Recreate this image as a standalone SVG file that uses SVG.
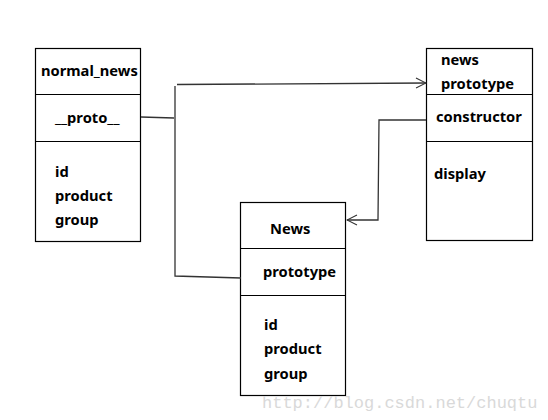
<svg xmlns="http://www.w3.org/2000/svg" width="548" height="420" viewBox="0 0 548 420">
<defs>
<style>
.box{fill:#fff;stroke:#000;stroke-width:1.2}
.div{stroke:#000;stroke-width:1.2}
.t{font-family:"Noto Sans","Open Sans",sans-serif;font-weight:bold;font-size:14.7px;fill:#000}
.c{fill:none;stroke:#333;stroke-width:1.3}
.wm{font-family:"Liberation Mono",monospace;font-size:17px;fill:#d9d9d9}
</style>
<marker id="arr" markerWidth="12" markerHeight="12" refX="11" refY="6" orient="auto" markerUnits="userSpaceOnUse">
<path d="M1,1 L11,6 L1,11" fill="none" stroke="#333" stroke-width="1.1"/>
</marker>
</defs>
<rect width="548" height="420" fill="#fff"/>
<g id="normal_news">
<rect class="box" x="35.5" y="48.5" width="105" height="193"/>
<line class="div" x1="35.5" y1="94.5" x2="140.5" y2="94.5"/>
<line class="div" x1="35.5" y1="141.5" x2="140.5" y2="141.5"/>
<text class="t" x="41" y="76">normal_news</text>
<text class="t" x="55" y="123">__proto__</text>
<text class="t" x="55" y="177">id</text>
<text class="t" x="55" y="201">product</text>
<text class="t" x="55" y="225">group</text>
</g>
<g id="news_prototype">
<rect class="box" x="426.5" y="48.5" width="106" height="192"/>
<line class="div" x1="426.5" y1="94.5" x2="532.5" y2="94.5"/>
<line class="div" x1="426.5" y1="141.5" x2="532.5" y2="141.5"/>
<text class="t" x="441" y="65">news</text>
<text class="t" x="441" y="89">prototype</text>
<text class="t" x="436" y="122">constructor</text>
<text class="t" x="434" y="179">display</text>
</g>
<g id="News">
<rect class="box" x="240.5" y="202.5" width="105" height="193"/>
<line class="div" x1="240.5" y1="248.5" x2="345.5" y2="248.5"/>
<line class="div" x1="240.5" y1="295.5" x2="345.5" y2="295.5"/>
<text class="t" x="270" y="234">News</text>
<text class="t" x="263" y="277">prototype</text>
<text class="t" x="264" y="330">id</text>
<text class="t" x="264" y="354">product</text>
<text class="t" x="264" y="379">group</text>
</g>
<g id="connectors">
<polyline class="c" points="141,117 174,118"/>
<polyline class="c" points="175,86 175,276 241,278"/>
<polyline class="c" points="177,84.5 426,83" marker-end="url(#arr)"/>
<polyline class="c" points="426,120 379,120 378,220 347,220" marker-end="url(#arr)"/>
</g>
<text class="wm" x="262" y="408">http://blog.csdn.net/chuqtu</text>
</svg>
